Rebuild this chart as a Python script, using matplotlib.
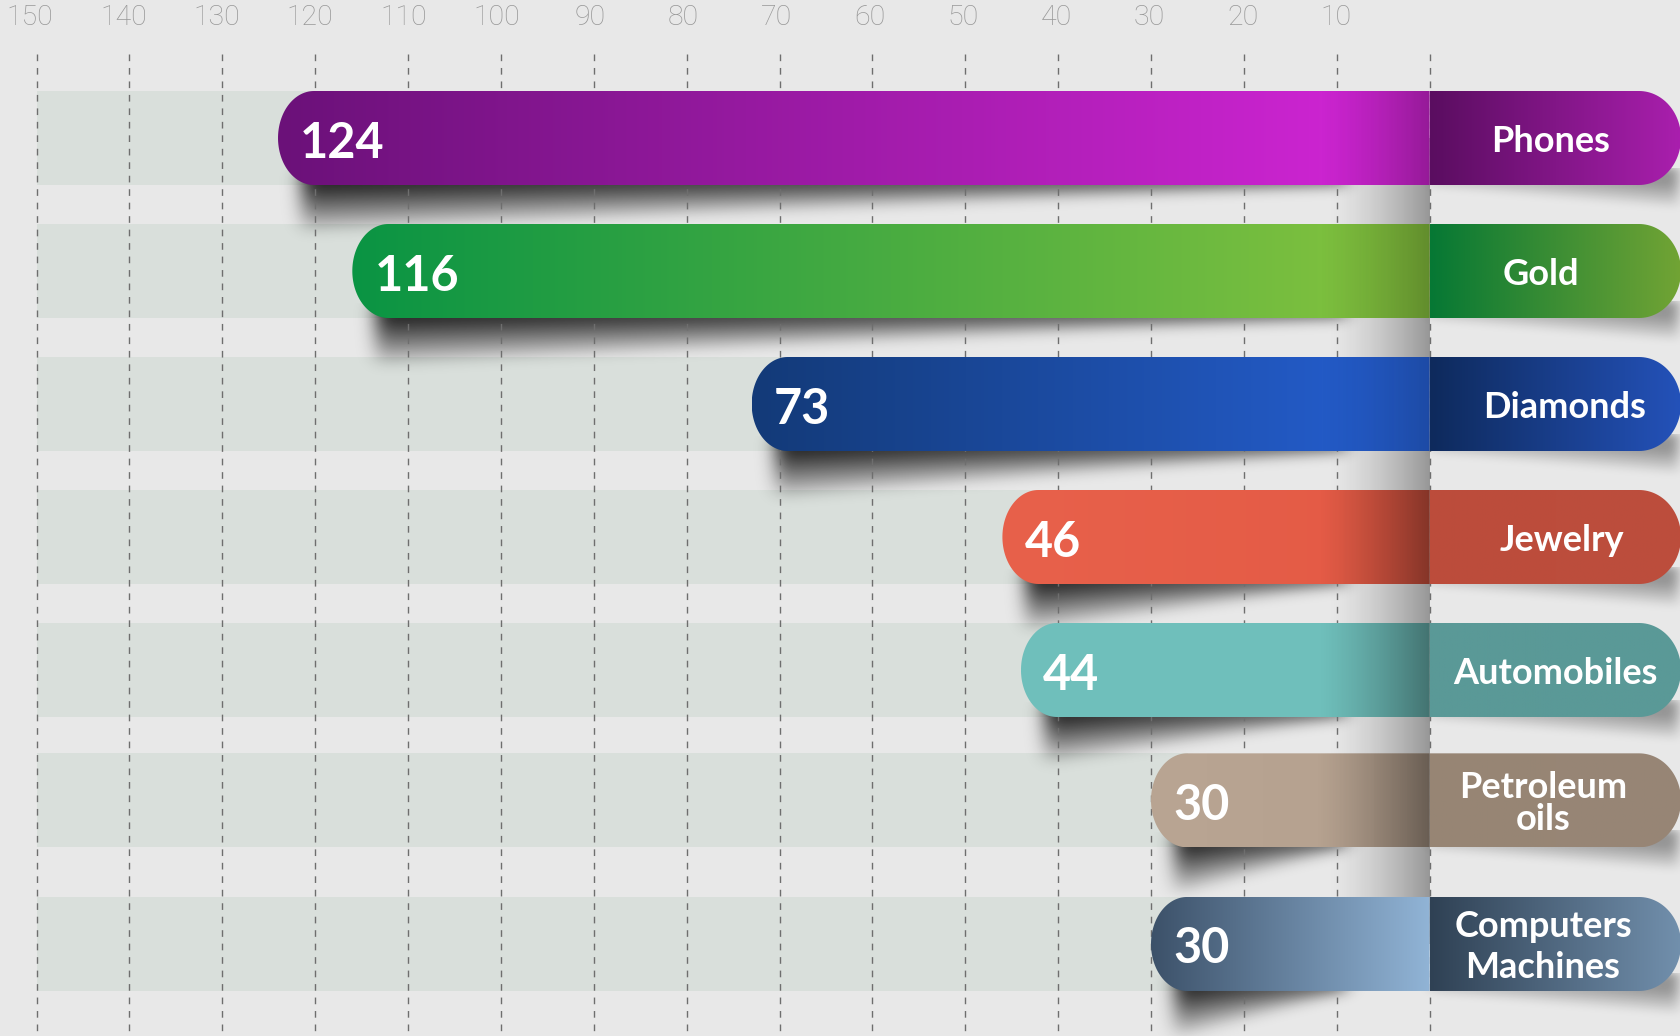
import numpy as np
import matplotlib
matplotlib.use("Agg")
import matplotlib.pyplot as plt
from matplotlib.path import Path
from matplotlib.patches import PathPatch
from matplotlib.colors import to_rgb

# ---------------- data ----------------
categories = ["Phones", "Gold", "Diamonds", "Jewelry", "Automobiles",
              "Petroleum\noils", "Computers\nMachines"]
values = [124, 116, 73, 46, 44, 30, 30]
tick_values = [150, 140, 130, 120, 110, 100, 90, 80, 70, 60, 50, 40, 30, 20, 10]
grid_values = tick_values + [0]

# ---------------- styles ----------------
bar_left_col = ["#6b1179", "#0a9444", "#133a78", "#e8614b", "#70c0bc", "#b9a593", "#3c5169"]
bar_right_col = ["#d526d9", "#88c43e", "#2660d4", "#e35a45", "#6fbfbb", "#b4a08e", "#91b4d6"]
label_left_col = ["#5a0d60", "#067834", "#0e2a5c", "#bc4c3b", "#5a9997", "#978574", "#2f4154"]
label_right_col = ["#aa1fae", "#72a434", "#2452ba", "#bc4e3d", "#5a9997", "#978676", "#7290ad"]
fold_dark = [0.30, 0.28, 0.22, 0.42, 0.40, 0.42, 0.0]
label_linespacing = [1.0, 1.0, 1.0, 1.0, 1.0, 0.95, 1.3]
BG = "#e8e8e8"
BAND = "#d9dfdb"

# ---------------- layout (pixel geometry) ----------------
W, H = 1681, 1036
X0_PX, PXU = 1429.6, 9.287      # pixel of value 0, pixels per unit
Y0_PX, PXR = 138.0, 133.0       # pixel of first row centre, pixels per row
row_slot = [0, 1, 2, 3, 4, 4.98, 6.06]   # slot of each row (last rows sit irregularly)
BAR_H = 94
RX = 36
RX_LABEL = 42
label_x_px = [1551, 1541, 1565, 1562, 1555, 1543, 1543]


def vx(px):
    return (X0_PX - px) / PXU


def ry(py):
    return (py - Y0_PX) / PXR


def pxv(v):
    return X0_PX - v * PXU


def pyr(r):
    return Y0_PX + r * PXR


fig = plt.figure(figsize=(W / 100, H / 100), dpi=100)
fig.patch.set_facecolor(BG)
ax = fig.add_axes([0, 0, 1, 1])
ax.set_axis_off()
ax.set_facecolor(BG)
XL = (vx(0), vx(W))
YL = (ry(H), ry(0))
ax.set_xlim(*XL)
ax.set_ylim(*YL)


def blur(a, sx, sy):
    def kern(s):
        r = int(3 * s) + 1
        t = np.arange(-r, r + 1)
        g = np.exp(-t ** 2 / (2 * s * s))
        return g / g.sum(), r
    g, r = kern(sx)
    p = np.pad(a, ((0, 0), (r, r)))
    out = np.zeros_like(a)
    for j in range(2 * r + 1):
        out += g[j] * p[:, j:j + a.shape[1]]
    g, r = kern(sy)
    p = np.pad(out, ((r, r), (0, 0)))
    out2 = np.zeros_like(a)
    for j in range(2 * r + 1):
        out2 += g[j] * p[j:j + a.shape[0], :]
    return out2


def to_data(pts):
    return [(vx(x), ry(y)) for x, y in pts]


def left_capsule(x_tip, x_end, yc, h, rx):
    t = np.linspace(np.pi / 2, 3 * np.pi / 2, 60)
    cx = x_tip + rx
    pts = [(cx + rx * np.cos(a), yc - (h / 2) * np.sin(a)) for a in t]
    pts += [(x_end, yc + h / 2), (x_end, yc - h / 2), pts[0]]
    return Path(to_data(pts), closed=True)


def right_capsule(x_start, x_tip, yc, h, rx):
    t = np.linspace(-np.pi / 2, np.pi / 2, 60)
    cx = x_tip - rx
    pts = [(x_start, yc - h / 2)]
    pts += [(cx + rx * np.cos(a), yc + (h / 2) * np.sin(a)) for a in t]
    pts += [(x_start, yc + h / 2), (x_start, yc - h / 2)]
    return Path(to_data(pts), closed=True)


def hgrad(x0, x1, yc, h, c0, c1, clip, z):
    n = 400
    t = np.linspace(0, 1, n)
    a, b = np.array(to_rgb(c0)), np.array(to_rgb(c1))
    img = (a[None, :] * (1 - t[:, None]) + b[None, :] * t[:, None])[None, :, :]
    im = ax.imshow(img, extent=(vx(x0), vx(x1), ry(yc + h / 2), ry(yc - h / 2)),
                   origin="upper", aspect="auto", interpolation="bilinear", zorder=z)
    im.set_clip_path(clip)


def alpha_ramp(x0, x1, y0, y1, amax, power, z, clip=None):
    n = 300
    t = np.linspace(0, 1, n)
    img = np.zeros((1, n, 4))
    img[0, :, 3] = amax * t ** power
    im = ax.imshow(img, extent=(vx(x0), vx(x1), ry(y1), ry(y0)),
                   origin="upper", aspect="auto", interpolation="bilinear", zorder=z)
    if clip is not None:
        im.set_clip_path(clip)


def shadow(x_start, x_end, y_top, d0, d1, a0, a1, sx, sy, z, power=0.9):
    pad = int(3 * max(sx, sy)) + 2
    xs = np.arange(int(x_start) - pad, int(x_end) + pad) + 0.5
    ys = np.arange(int(y_top) - 15, int(y_top + max(d0, d1)) + pad) + 0.5
    X, Y = np.meshgrid(xs, ys)
    t = np.clip((X - x_start) / (x_end - x_start), 0, 1)
    depth = d0 + (d1 - d0) * t
    amp = a0 + (a1 - a0) * t
    dy = Y - y_top
    inside = (X >= x_start) & (X <= x_end)
    prof = np.where(dy < 0, 1.0, np.clip(1 - dy / np.maximum(depth, 1e-3), 0, 1) ** power)
    A = np.where(inside, amp * prof, 0.0)
    A = blur(A, sx, sy)
    rgba = np.zeros(A.shape + (4,))
    rgba[..., 3] = np.clip(A, 0, 1)
    ax.imshow(rgba, extent=(vx(xs[0] - 0.5), vx(xs[-1] + 0.5), ry(ys[-1] + 0.5), ry(ys[0] - 0.5)),
              origin="upper", aspect="auto", interpolation="bilinear", zorder=z)


rows = np.array(row_slot, dtype=float)
hrow = BAR_H / PXR

# background bands
ax.barh(rows, [150 - (v - 4) for v in values], left=[v - 4 for v in values],
        height=hrow, color=BAND, zorder=1, linewidth=0)

# grey fold strip behind bars (value 11 -> 0)
alpha_ramp(pxv(11), pxv(0), pyr(rows[0]), pyr(rows[-1]), 0.35, 1.4, 1.5)

# drop shadows
for i, v in enumerate(values):
    yb = pyr(rows[i]) + BAR_H / 2
    shadow(pxv(v) + 24, pxv(9), yb, 50, 2, 0.85, 0.5, 9, 6, 2)
    shadow(X0_PX, W - 4, yb - 2, 5, 26, 0.12, 0.38, 6, 4, 2)

# dashed grid
ax.vlines(grid_values, ry(54), YL[0], colors="#6e6e6e", linewidth=1.0,
          linestyles=(0, (4.8, 4.9)), zorder=2.5)

# tick labels
for tv in tick_values:
    ax.text(tv + tv / 150 * 0.7, ry(17), str(tv), ha="center", va="center",
            fontsize=20.5, color="#979797", family="Roboto", fontweight="light", zorder=5)

# bars
for i, v in enumerate(values):
    yc = pyr(rows[i])
    x_tip = pxv(v)
    path = left_capsule(x_tip, X0_PX, yc, BAR_H, RX)
    patch = PathPatch(path, transform=ax.transData, facecolor="none", edgecolor="none", zorder=3)
    ax.add_patch(patch)
    hgrad(x_tip, X0_PX, yc, BAR_H, bar_left_col[i], bar_right_col[i], patch, 3)
    if fold_dark[i] > 0:
        alpha_ramp(pxv(12), X0_PX, yc - BAR_H / 2, yc + BAR_H / 2, fold_dark[i], 1.3, 3.2, patch)

    lpath = right_capsule(X0_PX, W, yc, BAR_H, RX_LABEL)
    lpatch = PathPatch(lpath, transform=ax.transData, facecolor="none", edgecolor="none", zorder=3)
    ax.add_patch(lpatch)
    hgrad(X0_PX, W, yc, BAR_H, label_left_col[i], label_right_col[i], lpatch, 3)

    ax.text(v - 22 / PXU, rows[i] + 5 / PXR, str(v), ha="left", va="center", color="white",
            fontsize=35, fontweight="bold", family="Lato", zorder=5)
    ax.text(vx(label_x_px[i]), rows[i] + 3 / PXR, categories[i], ha="center", va="center",
            color="white", fontsize=26, fontweight="bold", family="Lato",
            linespacing=label_linespacing[i], zorder=5)

ax.set_xlim(*XL)
ax.set_ylim(*YL)
fig.savefig("out.png", dpi=100, facecolor=BG)
